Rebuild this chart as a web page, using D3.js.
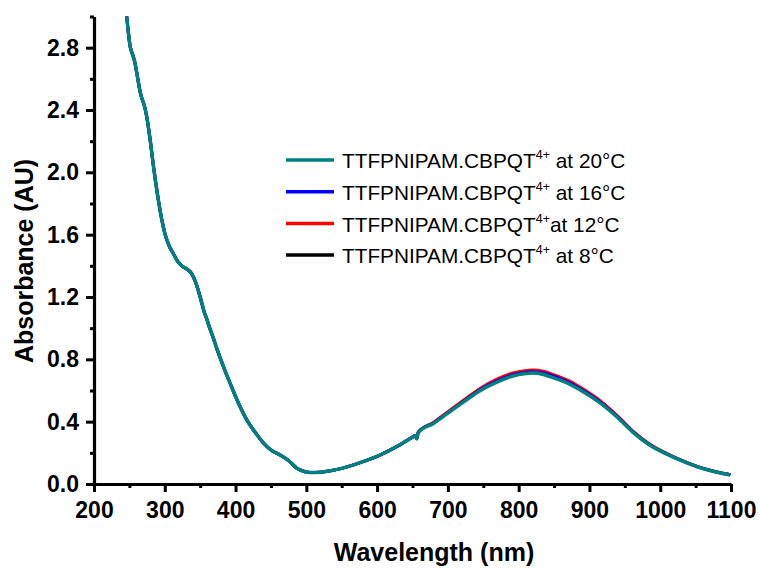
<!DOCTYPE html>
<html><head><meta charset="utf-8">
<script src="https://cdn.jsdelivr.net/npm/d3@7"></script>
<style>body{margin:0;background:#fff}svg{display:block}</style>
</head><body>
<svg id="c" width="761" height="571"></svg>
<script>
const wavelength = [244,246,248,251,255,258,260,263,265,268,271,274,279,284,291,300,306,312,318,324,331,338,344,350,356,360,362,366,375,384,392,404,416,428,439,451,463,475,487,496,505,520,534,550,576,604,630,650,654,656,658,680,700,725,746,770,793,808,820,835,850,870,890,915,940,962,985,1010,1035,1057,1080,1099];
const abs20 = [3.08,3.01,2.92,2.81,2.75,2.70,2.65,2.57,2.52,2.47,2.43,2.37,2.22,2.04,1.82,1.61,1.53,1.48,1.43,1.40,1.38,1.35,1.29,1.20,1.10,1.05,1.02,0.97,0.85,0.74,0.65,0.52,0.41,0.33,0.265,0.215,0.186,0.15,0.10,0.082,0.074,0.076,0.085,0.10,0.137,0.186,0.245,0.30,0.31,0.29,0.33,0.39,0.455,0.535,0.60,0.655,0.695,0.708,0.712,0.703,0.68,0.645,0.595,0.52,0.425,0.33,0.25,0.19,0.14,0.103,0.075,0.058];
const abs16 = [3.08,3.01,2.92,2.81,2.75,2.70,2.65,2.57,2.52,2.47,2.43,2.37,2.22,2.04,1.82,1.61,1.53,1.48,1.43,1.40,1.38,1.35,1.29,1.20,1.10,1.05,1.02,0.97,0.85,0.74,0.65,0.52,0.41,0.33,0.265,0.215,0.186,0.15,0.10,0.082,0.074,0.076,0.085,0.10,0.137,0.186,0.245,0.30,0.31,0.29,0.33,0.392,0.458,0.540,0.607,0.663,0.703,0.716,0.720,0.712,0.690,0.654,0.603,0.527,0.430,0.333,0.252,0.191,0.141,0.104,0.076,0.059];
const abs12 = [3.08,3.01,2.92,2.81,2.75,2.70,2.65,2.57,2.52,2.47,2.43,2.37,2.22,2.04,1.82,1.61,1.53,1.48,1.43,1.40,1.38,1.35,1.29,1.20,1.10,1.05,1.02,0.97,0.85,0.74,0.65,0.52,0.41,0.33,0.265,0.215,0.186,0.15,0.10,0.082,0.074,0.076,0.085,0.10,0.137,0.186,0.247,0.302,0.312,0.292,0.332,0.396,0.464,0.547,0.615,0.674,0.714,0.727,0.731,0.723,0.701,0.665,0.612,0.535,0.436,0.337,0.256,0.194,0.143,0.105,0.077,0.060];
const abs8 = [3.08,3.01,2.92,2.81,2.75,2.70,2.65,2.57,2.52,2.47,2.43,2.37,2.22,2.04,1.82,1.61,1.53,1.48,1.43,1.40,1.38,1.35,1.29,1.20,1.10,1.05,1.02,0.97,0.85,0.74,0.65,0.52,0.41,0.33,0.265,0.215,0.186,0.15,0.10,0.082,0.074,0.076,0.085,0.10,0.137,0.186,0.246,0.301,0.311,0.291,0.331,0.394,0.461,0.544,0.611,0.669,0.709,0.722,0.726,0.718,0.696,0.660,0.608,0.531,0.433,0.335,0.254,0.193,0.142,0.105,0.077,0.060];
const seriesLabels = ["20°C","16°C","12°C","8°C"];
const seriesColors = ["#008080","#0000ff","#ff0000","#000000"];
const xTicks = [200,300,400,500,600,700,800,900,1000,1100];
const yTicks = [0.0,0.4,0.8,1.2,1.6,2.0,2.4,2.8];

const svg = d3.select("#c");
const L = 94, R = 731, T = 16.5, B = 484;
const x = d3.scaleLinear().domain([200,1100]).range([L,R]);
const y = d3.scaleLinear().domain([0,3.0]).range([B,T]);

svg.append("defs").append("clipPath").attr("id","clip")
  .append("rect").attr("x",L).attr("y",T).attr("width",R-L+4).attr("height",B-T);

const line = d3.line().x(d=>x(d[0])).y(d=>y(d[1])).curve(d3.curveMonotoneX);
const all = [abs20,abs16,abs12,abs8];
const g = svg.append("g").attr("clip-path","url(#clip)");
[3,2,1,0].forEach(i=>{
  g.append("path").datum(wavelength.map((w,j)=>[w,all[i][j]]))
    .attr("d",line).attr("fill","none").attr("stroke",seriesColors[i])
    .attr("stroke-width", i===0?3.5:3).attr("stroke-linejoin","round");
});

// axes
const font = "Arial, 'Liberation Sans', sans-serif";
svg.append("g").attr("transform",`translate(0,${B})`)
  .call(d3.axisBottom(x).tickValues(xTicks).tickFormat(d3.format("d")).tickSizeInner(8).tickSizeOuter(0).tickPadding(10));
svg.append("g").attr("transform",`translate(0,${B})`)
  .call(d3.axisBottom(x).tickValues(d3.range(250,1100,100)).tickFormat("").tickSizeInner(4).tickSizeOuter(0))
  .select(".domain").remove();
svg.append("g").attr("transform",`translate(${L},0)`)
  .call(d3.axisLeft(y).tickValues(yTicks).tickFormat(d3.format(".1f")).tickSizeInner(8).tickSizeOuter(0).tickPadding(7));
svg.append("g").attr("transform",`translate(${L},0)`)
  .call(d3.axisLeft(y).tickValues([0.2,0.6,1.0,1.4,1.8,2.2,2.6,3.0]).tickFormat("").tickSizeInner(4).tickSizeOuter(0))
  .select(".domain").remove();
svg.selectAll(".domain").attr("stroke","#000").attr("stroke-width",3.2);
svg.selectAll(".tick line").attr("stroke","#000").attr("stroke-width",3);
svg.selectAll(".tick text").attr("font-family",font).attr("font-weight","bold").attr("font-size",23).attr("fill","#000");

svg.append("text").attr("x",434).attr("y",561).attr("text-anchor","middle")
  .attr("font-family",font).attr("font-weight","bold").attr("font-size",25).text("Wavelength (nm)");
svg.append("text").attr("transform","translate(33,261) rotate(-90)").attr("text-anchor","middle")
  .attr("font-family",font).attr("font-weight","bold").attr("font-size",25).text("Absorbance (AU)");

// legend
const lg = svg.append("g");
const sep = [" at "," at ","at "," at "];
seriesLabels.forEach((lab,i)=>{
  const yy = 160 + i*31.7;
  lg.append("line").attr("x1",286).attr("x2",334).attr("y1",yy).attr("y2",yy)
    .attr("stroke",seriesColors[i]).attr("stroke-width",3.5);
  const t = lg.append("text").attr("x",342).attr("y",yy+8.3).attr("font-family",font).attr("font-size",20.8).attr("fill","#000");
  t.append("tspan").text("TTFPNIPAM.CBPQT");
  t.append("tspan").attr("font-size",12.5).attr("dy",-9).text("4+");
  t.append("tspan").attr("dy",9).text(sep[i]+lab);
});
</script>
</body></html>
